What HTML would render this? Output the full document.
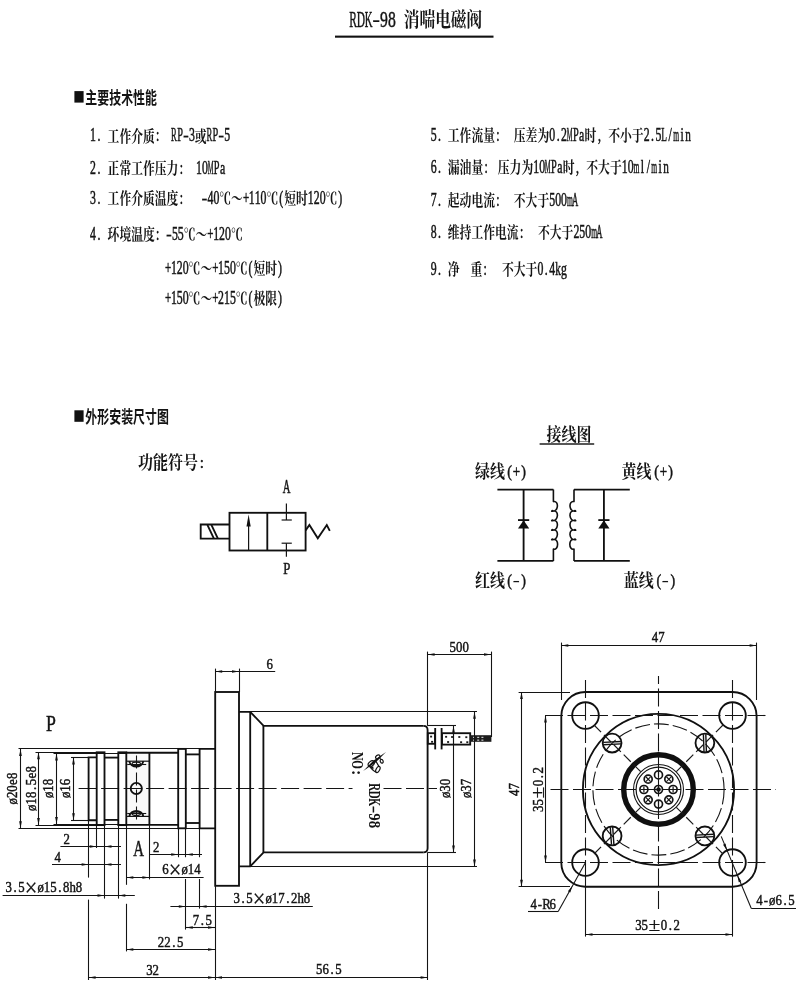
<!DOCTYPE html>
<html lang="zh-CN"><head><meta charset="utf-8"><title>RDK-98 消喘电磁阀</title>
<style>
html,body{margin:0;padding:0;background:#fff}
body{width:800px;height:988px;overflow:hidden;font-family:"Liberation Serif",serif}
svg{display:block;position:absolute;left:0;top:0;filter:grayscale(1)}
text{font-family:"Liberation Serif",serif;font-weight:bold;text-anchor:middle;fill:#141414}
.cs{font-family:"Liberation Serif","Noto Serif CJK SC",serif;font-weight:bold;fill:#141414;stroke:none}
.ch{font-family:"Liberation Sans","Noto Sans CJK SC",sans-serif;font-weight:bold;fill:#141414;stroke:none}
.k{fill:none;stroke:#101010;stroke-width:1.85;stroke-linejoin:miter}
.m{fill:none;stroke:#141414;stroke-width:1.2}
.n{fill:none;stroke:#141414;stroke-width:1.08}
.c{fill:none;stroke:#141414;stroke-width:1.08;stroke-dasharray:18 4.5}
.c2{fill:none;stroke:#1c1c1c;stroke-width:1.2;stroke-dasharray:10 4}
.c3{fill:none;stroke:#141414;stroke-width:1.1;stroke-dasharray:15 4}
.a{fill:#101010;stroke:none}
.d{font-weight:normal;stroke:#141414;stroke-width:.45}
.r{font-weight:normal;stroke:#141414;stroke-width:.5}
.b{font-weight:bold}
.x{font-weight:normal;stroke:#141414;stroke-width:.15}
</style></head>
<body>
<svg width="800" height="988" viewBox="0 0 800 988">
<g aria-label="RDK-98 消喘电磁阀" stroke-width="3"><text class="r" transform="translate(0,27.4) scale(0.478,1)" x="738.63 755.07" font-size="24">RD</text><text class="r" transform="translate(0,27.4) scale(0.445,1)" x="828.23" font-size="24">K</text><text class="x" transform="translate(0,27.4) scale(0.981,1)" x="383.46" font-size="24">-</text><text class="r" transform="translate(0,27.4) scale(0.654,1)" x="587.2 599.2" font-size="24">98</text><text class="cs" transform="translate(403.75,27.18) scale(0.7772,1)" x="10.1 30.3 50.5 70.7 90.9" font-size="20.2">消喘电磁阀</text></g>
<rect x="335" y="35.6" width="158.5" height="2.1" fill="#111"/>
<rect x="74.4" y="91.1" width="9.2" height="11.5" fill="#111"/>
<g aria-label="主要技术性能"><text class="ch" transform="translate(85.3,103.84) scale(0.6948,1)" x="8.6 25.8 43 60.2 77.4 94.6" font-size="17.2">主要技术性能</text></g>
<g aria-label="1."><text class="r" transform="translate(0,141.43) scale(0.661,1)" x="140.64 149.57" font-size="17.85">1.</text></g>
<g aria-label="工作介质:" stroke-width="5"><text class="cs" transform="translate(107.6,141.5) scale(0.7468,1)" x="7.9 23.7 39.5 55.3" font-size="15.8">工作介质</text><text class="r" transform="translate(0,141.43) scale(0.661,1)" x="238.68" font-size="17.85">:</text></g>
<g aria-label="RP-3或RP-5" stroke-width="5"><text class="r" transform="translate(0,141.43) scale(0.482,1)" x="360.96" font-size="17.85">R</text><text class="r" transform="translate(0,141.43) scale(0.575,1)" x="313.13" font-size="17.85">P</text><text class="x" transform="translate(0,141.43) scale(0.991,1)" x="187.57" font-size="17.85">-</text><text class="r" transform="translate(0,141.43) scale(0.661,1)" x="290.28" font-size="17.85">3</text><text class="cs" transform="translate(194.8,141.5) scale(0.7468,1)" x="7.9" font-size="15.8">或</text><text class="r" transform="translate(0,141.43) scale(0.482,1)" x="434.33" font-size="17.85">R</text><text class="r" transform="translate(0,141.43) scale(0.575,1)" x="374.7" font-size="17.85">P</text><text class="x" transform="translate(0,141.43) scale(0.991,1)" x="223.28" font-size="17.85">-</text><text class="r" transform="translate(0,141.43) scale(0.661,1)" x="343.84" font-size="17.85">5</text></g>
<g aria-label="2."><text class="r" transform="translate(0,174.12) scale(0.661,1)" x="140.64 149.57" font-size="17.85">2.</text></g>
<g aria-label="正常工作压力:" stroke-width="5"><text class="cs" transform="translate(107.6,174.2) scale(0.7468,1)" x="7.9 23.7 39.5 55.3 71.1 86.9" font-size="15.8">正常工作压力</text><text class="r" transform="translate(0,174.12) scale(0.661,1)" x="274.39" font-size="17.85">:</text></g>
<g aria-label="10MPa"><text class="r" transform="translate(0,174.12) scale(0.661,1)" x="301.02 309.95" font-size="17.85">10</text><text class="r" transform="translate(0,174.12) scale(0.370,1)" x="569.42" font-size="17.85">M</text><text class="r" transform="translate(0,174.12) scale(0.575,1)" x="376.78" font-size="17.85">P</text><text class="r" transform="translate(0,174.12) scale(0.661,1)" x="336.73" font-size="17.85">a</text></g>
<g aria-label="3."><text class="r" transform="translate(0,203.93) scale(0.661,1)" x="140.64 149.57" font-size="17.85">3.</text></g>
<g aria-label="工作介质温度:" stroke-width="5"><text class="cs" transform="translate(107.6,204) scale(0.7468,1)" x="7.9 23.7 39.5 55.3 71.1 86.9" font-size="15.8">工作介质温度</text><text class="r" transform="translate(0,203.93) scale(0.661,1)" x="274.39" font-size="17.85">:</text></g>
<g aria-label="-40℃～+110℃(短时120℃)" stroke-width="5"><text class="x" transform="translate(0,203.93) scale(0.991,1)" x="206.33" font-size="17.85">-</text><text class="r" transform="translate(0,203.93) scale(0.661,1)" x="318.42 327.35" font-size="17.85">40</text><text class="cs" transform="translate(219.3,204) scale(0.7468,1)" x="7.9 23.7" font-size="15.8">℃～</text><text class="r" transform="translate(0,203.93) scale(0.615,1)" x="399.98" font-size="17.85">+</text><text class="r" transform="translate(0,203.93) scale(0.661,1)" x="380.91 389.84 398.76" font-size="17.85">110</text><text class="cs" transform="translate(266.5,204) scale(0.7468,1)" x="7.9" font-size="15.8">℃</text><text class="r" transform="translate(0,203.93) scale(0.661,1)" x="425.55" font-size="17.85">(</text><text class="cs" transform="translate(284.2,204) scale(0.7468,1)" x="7.9 23.7" font-size="15.8">短时</text><text class="r" transform="translate(0,203.93) scale(0.661,1)" x="470.18 479.11 488.03" font-size="17.85">120</text><text class="cs" transform="translate(325.5,204) scale(0.7468,1)" x="7.9" font-size="15.8">℃</text><text class="r" transform="translate(0,203.93) scale(0.661,1)" x="514.82" font-size="17.85">)</text></g>
<g aria-label="4."><text class="r" transform="translate(0,240.12) scale(0.661,1)" x="140.64 149.57" font-size="17.85">4.</text></g>
<g aria-label="环境温度:" stroke-width="5"><text class="cs" transform="translate(107.6,240.2) scale(0.7468,1)" x="7.9 23.7 39.5 55.3" font-size="15.8">环境温度</text><text class="r" transform="translate(0,240.12) scale(0.661,1)" x="238.68" font-size="17.85">:</text></g>
<g aria-label="-55℃～+120℃" stroke-width="5"><text class="x" transform="translate(0,240.12) scale(0.991,1)" x="170.42" font-size="17.85">-</text><text class="r" transform="translate(0,240.12) scale(0.661,1)" x="264.56 273.48" font-size="17.85">55</text><text class="cs" transform="translate(183.7,240.2) scale(0.7468,1)" x="7.9 23.7" font-size="15.8">℃～</text><text class="r" transform="translate(0,240.12) scale(0.615,1)" x="342.06" font-size="17.85">+</text><text class="r" transform="translate(0,240.12) scale(0.661,1)" x="327.05 335.97 344.9" font-size="17.85">120</text><text class="cs" transform="translate(230.9,240.2) scale(0.7468,1)" x="7.9" font-size="15.8">℃</text></g>
<g aria-label="+120℃～+150℃(短时)" stroke-width="5"><text class="r" transform="translate(0,273.73) scale(0.615,1)" x="273.24" font-size="17.85">+</text><text class="r" transform="translate(0,273.73) scale(0.661,1)" x="263.04 271.97 280.9" font-size="17.85">120</text><text class="cs" transform="translate(188.6,273.8) scale(0.7468,1)" x="7.9 23.7" font-size="15.8">℃～</text><text class="r" transform="translate(0,273.73) scale(0.615,1)" x="350.04" font-size="17.85">+</text><text class="r" transform="translate(0,273.73) scale(0.661,1)" x="334.46 343.39 352.31" font-size="17.85">150</text><text class="cs" transform="translate(235.8,273.8) scale(0.7468,1)" x="7.9" font-size="15.8">℃</text><text class="r" transform="translate(0,273.73) scale(0.661,1)" x="379.09" font-size="17.85">(</text><text class="cs" transform="translate(253.5,273.8) scale(0.7468,1)" x="7.9 23.7" font-size="15.8">短时</text><text class="r" transform="translate(0,273.73) scale(0.661,1)" x="423.73" font-size="17.85">)</text></g>
<g aria-label="+150℃～+215℃(极限)" stroke-width="5"><text class="r" transform="translate(0,303.93) scale(0.615,1)" x="273.24" font-size="17.85">+</text><text class="r" transform="translate(0,303.93) scale(0.661,1)" x="263.04 271.97 280.9" font-size="17.85">150</text><text class="cs" transform="translate(188.6,304) scale(0.7468,1)" x="7.9 23.7" font-size="15.8">℃～</text><text class="r" transform="translate(0,303.93) scale(0.615,1)" x="350.04" font-size="17.85">+</text><text class="r" transform="translate(0,303.93) scale(0.661,1)" x="334.46 343.39 352.31" font-size="17.85">215</text><text class="cs" transform="translate(235.8,304) scale(0.7468,1)" x="7.9" font-size="15.8">℃</text><text class="r" transform="translate(0,303.93) scale(0.661,1)" x="379.09" font-size="17.85">(</text><text class="cs" transform="translate(253.5,304) scale(0.7468,1)" x="7.9 23.7" font-size="15.8">极限</text><text class="r" transform="translate(0,303.93) scale(0.661,1)" x="423.73" font-size="17.85">)</text></g>
<g aria-label="5."><text class="r" transform="translate(0,140.73) scale(0.661,1)" x="655.98 664.91" font-size="17.85">5.</text></g>
<g aria-label="工作流量:" stroke-width="5"><text class="cs" transform="translate(447.8,140.8) scale(0.7468,1)" x="7.9 23.7 39.5 55.3" font-size="15.8">工作流量</text><text class="r" transform="translate(0,140.73) scale(0.661,1)" x="753.42" font-size="17.85">:</text></g>
<g aria-label="压差为0.2MPa时, 不小于2.5L/min" stroke-width="5"><text class="cs" transform="translate(513.8,140.8) scale(0.7468,1)" x="7.9 23.7 39.5" font-size="15.8">压差为</text><text class="r" transform="translate(0,140.73) scale(0.661,1)" x="835.43 844.36 853.29" font-size="17.85">0.2</text><text class="r" transform="translate(0,140.73) scale(0.370,1)" x="1539.66" font-size="17.85">M</text><text class="r" transform="translate(0,140.73) scale(0.575,1)" x="1001.31" font-size="17.85">P</text><text class="r" transform="translate(0,140.73) scale(0.661,1)" x="880.07" font-size="17.85">a</text><text class="cs" transform="translate(584.6,140.8) scale(0.7468,1)" x="7.9" font-size="15.8">时</text><text class="r" transform="translate(0,140.73) scale(0.661,1)" x="906.85" font-size="17.85">,</text><text class="cs" transform="translate(608.2,140.8) scale(0.7468,1)" x="7.9 23.7 39.5" font-size="15.8">不小于</text><text class="r" transform="translate(0,140.73) scale(0.661,1)" x="978.26 987.19 996.12" font-size="17.85">2.5</text><text class="r" transform="translate(0,140.73) scale(0.522,1)" x="1272.21" font-size="17.85">L</text><text class="r" transform="translate(0,140.73) scale(0.661,1)" x="1013.97" font-size="17.85">/</text><text class="r" transform="translate(0,140.73) scale(0.423,1)" x="1598.28" font-size="17.85">m</text><text class="r" transform="translate(0,140.73) scale(0.661,1)" x="1031.83" font-size="17.85">i</text><text class="r" transform="translate(0,140.73) scale(0.628,1)" x="1095.53" font-size="17.85">n</text></g>
<g aria-label="6."><text class="r" transform="translate(0,172.53) scale(0.661,1)" x="655.98 664.91" font-size="17.85">6.</text></g>
<g aria-label="漏油量:" stroke-width="5"><text class="cs" transform="translate(447.8,172.6) scale(0.7468,1)" x="7.9 23.7 39.5" font-size="15.8">漏油量</text><text class="r" transform="translate(0,172.53) scale(0.661,1)" x="735.57" font-size="17.85">:</text></g>
<g aria-label="压力为10MPa时, 不大于10ml/min" stroke-width="5"><text class="cs" transform="translate(497.8,172.6) scale(0.7468,1)" x="7.9 23.7 39.5" font-size="15.8">压力为</text><text class="r" transform="translate(0,172.53) scale(0.661,1)" x="811.22 820.15" font-size="17.85">10</text><text class="r" transform="translate(0,172.53) scale(0.370,1)" x="1480.49" font-size="17.85">M</text><text class="r" transform="translate(0,172.53) scale(0.575,1)" x="963.22" font-size="17.85">P</text><text class="r" transform="translate(0,172.53) scale(0.661,1)" x="846.93" font-size="17.85">a</text><text class="cs" transform="translate(562.7,172.6) scale(0.7468,1)" x="7.9" font-size="15.8">时</text><text class="r" transform="translate(0,172.53) scale(0.661,1)" x="873.71" font-size="17.85">,</text><text class="cs" transform="translate(586.3,172.6) scale(0.7468,1)" x="7.9 23.7 39.5" font-size="15.8">不大于</text><text class="r" transform="translate(0,172.53) scale(0.661,1)" x="945.13 954.05" font-size="17.85">10</text><text class="r" transform="translate(0,172.53) scale(0.423,1)" x="1504.66" font-size="17.85">m</text><text class="r" transform="translate(0,172.53) scale(0.661,1)" x="971.91 980.84" font-size="17.85">l/</text><text class="r" transform="translate(0,172.53) scale(0.423,1)" x="1546.5" font-size="17.85">m</text><text class="r" transform="translate(0,172.53) scale(0.661,1)" x="998.69" font-size="17.85">i</text><text class="r" transform="translate(0,172.53) scale(0.628,1)" x="1060.65" font-size="17.85">n</text></g>
<g aria-label="7."><text class="r" transform="translate(0,205.93) scale(0.661,1)" x="655.98 664.91" font-size="17.85">7.</text></g>
<g aria-label="起动电流:" stroke-width="5"><text class="cs" transform="translate(447.8,206) scale(0.7468,1)" x="7.9 23.7 39.5 55.3" font-size="15.8">起动电流</text><text class="r" transform="translate(0,205.93) scale(0.661,1)" x="753.42" font-size="17.85">:</text></g>
<g aria-label="不大于500mA" stroke-width="5"><text class="cs" transform="translate(513.8,206) scale(0.7468,1)" x="7.9 23.7 39.5" font-size="15.8">不大于</text><text class="r" transform="translate(0,205.93) scale(0.661,1)" x="835.43 844.36 853.29" font-size="17.85">500</text><text class="r" transform="translate(0,205.93) scale(0.423,1)" x="1347.21" font-size="17.85">m</text><text class="r" transform="translate(0,205.93) scale(0.482,1)" x="1193.34" font-size="17.85">A</text></g>
<g aria-label="8."><text class="r" transform="translate(0,238.33) scale(0.661,1)" x="655.98 664.91" font-size="17.85">8.</text></g>
<g aria-label="维持工作电流:" stroke-width="5"><text class="cs" transform="translate(447.8,238.4) scale(0.7468,1)" x="7.9 23.7 39.5 55.3 71.1 86.9" font-size="15.8">维持工作电流</text><text class="r" transform="translate(0,238.33) scale(0.661,1)" x="789.13" font-size="17.85">:</text></g>
<g aria-label="不大于250mA" stroke-width="5"><text class="cs" transform="translate(538,238.4) scale(0.7468,1)" x="7.9 23.7 39.5" font-size="15.8">不大于</text><text class="r" transform="translate(0,238.33) scale(0.661,1)" x="872.05 880.97 889.9" font-size="17.85">250</text><text class="r" transform="translate(0,238.33) scale(0.423,1)" x="1404.42" font-size="17.85">m</text><text class="r" transform="translate(0,238.33) scale(0.482,1)" x="1243.5" font-size="17.85">A</text></g>
<g aria-label="9."><text class="r" transform="translate(0,274.93) scale(0.661,1)" x="655.98 664.91" font-size="17.85">9.</text></g>
<g aria-label="净" stroke-width="5"><text class="cs" transform="translate(447.8,275) scale(0.7468,1)" x="7.9" font-size="15.8">净</text></g>
<g aria-label="重:" stroke-width="5"><text class="cs" transform="translate(470.4,275) scale(0.7468,1)" x="7.9" font-size="15.8">重</text><text class="r" transform="translate(0,274.93) scale(0.661,1)" x="734.06" font-size="17.85">:</text></g>
<g aria-label="不大于0.4kg" stroke-width="5"><text class="cs" transform="translate(502,275) scale(0.7468,1)" x="7.9 23.7 39.5" font-size="15.8">不大于</text><text class="r" transform="translate(0,274.93) scale(0.661,1)" x="817.58 826.5 835.43" font-size="17.85">0.4</text><text class="r" transform="translate(0,274.93) scale(0.628,1)" x="888.8" font-size="17.85">k</text><text class="r" transform="translate(0,274.93) scale(0.661,1)" x="853.29" font-size="17.85">g</text></g>
<rect x="74.4" y="410.3" width="9.2" height="11.5" fill="#111"/>
<g aria-label="外形安装尺寸图"><text class="ch" transform="translate(85.3,423.04) scale(0.6948,1)" x="8.6 25.8 43 60.2 77.4 94.6 111.8" font-size="17.2">外形安装尺寸图</text></g>
<g aria-label="功能符号:" stroke-width="4"><text class="cs" transform="translate(138,469.19) scale(0.8152,1)" x="9.2 27.6 46 64.4" font-size="18.4">功能符号</text><text class="r" transform="translate(0,467.6) scale(0.915,1)" x="220.58" font-size="16.4">:</text></g>
<g aria-label="接线图" stroke-width="4"><text class="cs" transform="translate(546.6,440.59) scale(0.8152,1)" x="9.2 27.6 46" font-size="18.4">接线图</text></g>
<rect x="539.6" y="443.3" width="54.6" height="1.4" fill="#111"/>
<g aria-label="绿线" stroke-width="4"><text class="cs" transform="translate(475,478.19) scale(0.8152,1)" x="9.2 27.6" font-size="18.4">绿线</text></g>
<g aria-label="(+)"><text class="r" transform="translate(0,476.6) scale(0.854,1)" x="596.73" font-size="16.4">(</text><text class="r" transform="translate(0,476.6) scale(0.794,1)" x="650.46" font-size="16.4">+</text><text class="r" transform="translate(0,476.6) scale(0.854,1)" x="613.13" font-size="16.4">)</text></g>
<g aria-label="黄线" stroke-width="4"><text class="cs" transform="translate(621.6,478.19) scale(0.8152,1)" x="9.2 27.6" font-size="18.4">黄线</text></g>
<g aria-label="(+)"><text class="r" transform="translate(0,476.6) scale(0.854,1)" x="768.93" font-size="16.4">(</text><text class="r" transform="translate(0,476.6) scale(0.794,1)" x="835.62" font-size="16.4">+</text><text class="r" transform="translate(0,476.6) scale(0.854,1)" x="785.33" font-size="16.4">)</text></g>
<g aria-label="红线" stroke-width="4"><text class="cs" transform="translate(475,587.39) scale(0.8152,1)" x="9.2 27.6" font-size="18.4">红线</text></g>
<g aria-label="(-)"><text class="r" transform="translate(0,585.8) scale(0.854,1)" x="596.73" font-size="16.4">(</text><text class="x" transform="translate(0,585.8) scale(1.280,1)" x="403.28" font-size="16.4">-</text><text class="r" transform="translate(0,585.8) scale(0.854,1)" x="613.13" font-size="16.4">)</text></g>
<g aria-label="蓝线" stroke-width="4"><text class="cs" transform="translate(623.8,587.39) scale(0.8152,1)" x="9.2 27.6" font-size="18.4">蓝线</text></g>
<g aria-label="(-)"><text class="r" transform="translate(0,585.8) scale(0.854,1)" x="771.39" font-size="16.4">(</text><text class="x" transform="translate(0,585.8) scale(1.280,1)" x="519.72" font-size="16.4">-</text><text class="r" transform="translate(0,585.8) scale(0.854,1)" x="787.79" font-size="16.4">)</text></g>
<rect class="k" x="229.5" y="512.8" width="76.1" height="37.7"/>
<path class="k" d="M267.3 512.8L267.3 550.5"/>
<path class="k" d="M229.5 524.5L200.7 524.5L200.7 538.6L229.5 538.6"/>
<path class="k" d="M207.4 524.8L213.8 538.3"/>
<path class="k" d="M211.4 524.8L217.8 538.3"/>
<path class="m" d="M248.6 550.5L248.6 524"/>
<path class="a" d="M248.6 514.6L250.7 526.4L246.5 526.4z"/>
<path class="m" d="M286.4 503.6L286.4 520"/>
<path class="m" d="M281.6 520L291.8 520"/>
<path class="m" d="M286.4 543.2L286.4 556.8"/>
<path class="m" d="M281.6 543.2L291.8 543.2"/>
<path class="k" d="M305.6 530.4L309.4 525L317.8 538.3L326.8 525L329.8 530.8"/>
<g aria-label="A"><text class="r" transform="translate(0,492.8) scale(0.592,1)" x="483.95" font-size="18">A</text></g>
<g aria-label="P"><text class="r" transform="translate(0,573.6) scale(0.738,1)" x="388.7" font-size="17.2">P</text></g>
<path class="k" d="M497.4 489.6L553.4 489.6"/>
<path class="k" d="M497.4 560.9L553.4 560.9"/>
<path class="k" d="M523.6 489.6L523.6 560.9"/>
<path class="a" d="M523.6 520.3L529.2 528.6L518 528.6z"/>
<path class="k" d="M518 520.1L529.2 520.1"/>
<path class="k" style="stroke-linejoin:round;stroke-width:1.6" d="M553.4 489.6V501.6c5.6 -1.6 5.6 11 -1.7 9.5q0.6 -0.9 1.7 0c5.6 -1.6 5.6 11 -1.7 9.5q0.6 -0.9 1.7 0c5.6 -1.6 5.6 11 -1.7 9.5q0.6 -0.9 1.7 0c5.6 -1.6 5.6 11 -1.7 9.5q0.6 -0.9 1.7 0c5.6 -1.6 5.6 11 0 9.5V560.9"/>
<path class="k" d="M629.8 489.6L574 489.6"/>
<path class="k" d="M629.8 560.9L574 560.9"/>
<path class="k" d="M603.9 489.6L603.9 560.9"/>
<path class="a" d="M603.9 520.3L609.5 528.6L598.3 528.6z"/>
<path class="k" d="M598.3 520.1L609.5 520.1"/>
<path class="k" style="stroke-linejoin:round;stroke-width:1.6" d="M574 489.6V501.6c-5.6 -1.6 -5.6 11 1.7 9.5q-0.6 -0.9 -1.7 0c-5.6 -1.6 -5.6 11 1.7 9.5q-0.6 -0.9 -1.7 0c-5.6 -1.6 -5.6 11 1.7 9.5q-0.6 -0.9 -1.7 0c-5.6 -1.6 -5.6 11 1.7 9.5q-0.6 -0.9 -1.7 0c-5.6 -1.6 -5.6 11 0 9.5V560.9"/>
<rect x="126.3" y="752.6" width="23.1" height="72.2" fill="#f9f9f9"/>
<path class="c" d="M78.6 788.5H352.5M383.5 788.5H437"/>
<path class="n" d="M18.5 748.5L215.2 748.5"/>
<path class="n" d="M18.5 828.5L215.2 828.5"/>
<path class="n" d="M35.5 752.5L97 752.5"/>
<path class="n" d="M35.5 825.5L97 825.5"/>
<path class="n" d="M53.5 753.5L127 753.5"/>
<path class="n" d="M53.5 824.5L127 824.5"/>
<path class="n" d="M71 757.5L88.6 757.5"/>
<path class="n" d="M71 820.5L88.6 820.5"/>
<path class="k" d="M96.7 757.4L88.6 757.4L88.6 820.2L96.7 820.2"/>
<rect class="k" x="96.7" y="752.3" width="7.8" height="72.8"/>
<path class="k" d="M104.5 757.6L118.3 757.6"/>
<path class="k" d="M104.5 819.9L118.3 819.9"/>
<rect class="k" x="118.3" y="752.3" width="8" height="72.8"/>
<path class="k" d="M126.3 752.7L178.2 752.7"/>
<path class="k" d="M126.3 824.8L178.2 824.8"/>
<path class="m" d="M126.3 761.2L149.4 761.2"/>
<path class="m" d="M126.3 816.4L149.4 816.4"/>
<path class="k" d="M149.4 752.7L149.4 824.8"/>
<rect class="k" x="178.2" y="748.9" width="7.6" height="79.4"/>
<path class="k" d="M185.8 754.4L199.6 754.4"/>
<path class="k" d="M185.8 823L199.6 823"/>
<path class="k" d="M215.2 748.9L199.6 748.9L199.6 828.3L215.2 828.3"/>
<path class="c" style="stroke-dasharray:13 4" d="M136.5 755.5V822.5"/>
<circle class="k" cx="136.3" cy="788.5" r="5.6"/>
<path class="k" d="M129.4 761.2C130.4 768.4 142.2 768.4 143.2 761.2"/>
<ellipse class="m" cx="136.3" cy="763.9" rx="4.2" ry="1.7"/>
<path class="n" d="M127.2 764.5L146.2 764.5"/>
<path class="k" d="M129.4 816.4C130.4 809.2 142.2 809.2 143.2 816.4"/>
<ellipse class="m" cx="136.3" cy="813.7" rx="4.2" ry="1.7"/>
<path class="n" d="M127.2 813.5L146.2 813.5"/>
<rect class="k" x="215.2" y="692" width="23.8" height="193.8"/>
<path class="k" d="M239 711.8L250.2 711.8L263.6 725.8L423.4 725.8"/>
<path class="k" d="M239 866.4L250.2 866.4L263.6 852.4L423.4 852.4"/>
<path class="k" d="M423.4 725.8Q427.6 725.8 427.6 730V848.2Q427.6 852.4 423.4 852.4"/>
<path class="k" d="M250.2 711.8L250.2 866.4"/>
<path class="k" d="M263.4 725.8L263.4 852.4"/>
<path class="n" d="M250.2 711.5L477 711.5"/>
<path class="n" d="M250.2 866.5L477 866.5"/>
<path class="n" d="M427.6 725.5L456 725.5"/>
<path class="n" d="M427.6 852.5L456 852.5"/>
<rect class="k" x="427.8" y="733.2" width="7.2" height="10.6"/>
<path class="k" d="M435.2 728L435.2 749.4"/>
<path class="k" d="M441.6 728L441.6 749.4"/>
<rect class="k" x="442" y="733.2" width="28.2" height="11.4"/>
<path class="n" d="M453.5 733.2L453.5 744.6"/>
<rect x="430.1" y="735.7" width="2" height="1.8" fill="#1a1a1a"/>
<rect x="431.1" y="740.9" width="2" height="1.8" fill="#1a1a1a"/>
<rect x="445.1" y="735.9" width="2" height="1.8" fill="#1a1a1a"/>
<rect x="447.1" y="741.1" width="2" height="1.8" fill="#1a1a1a"/>
<rect x="451.1" y="736.1" width="2" height="1.8" fill="#1a1a1a"/>
<rect x="458.3" y="736.1" width="2" height="1.8" fill="#1a1a1a"/>
<rect x="460.1" y="741.3" width="2" height="1.8" fill="#1a1a1a"/>
<rect x="465.3" y="736.3" width="2" height="1.8" fill="#1a1a1a"/>
<rect x="466.3" y="741.3" width="2" height="1.8" fill="#1a1a1a"/>
<rect x="470.2" y="735.2" width="21.2" height="6.6" fill="#1c1c1c"/>
<rect x="473" y="736.8" width="2" height="1.1" fill="#ddd"/><rect x="473" y="739.6" width="2" height="1.1" fill="#ddd"/>
<rect x="477.2" y="736.8" width="2" height="1.1" fill="#ddd"/><rect x="477.2" y="739.6" width="2" height="1.1" fill="#ddd"/>
<rect x="481.4" y="736.8" width="2" height="1.1" fill="#ddd"/><rect x="481.4" y="739.6" width="2" height="1.1" fill="#ddd"/>
<g aria-label="NO:" transform="translate(351.5,752.3) rotate(90)"><text class="b" transform="translate(0,0) scale(0.688,1)" x="5.96" font-size="17.4">N</text><text class="b" transform="translate(0,0) scale(0.641,1)" x="19.19" font-size="17.4">O</text><text class="b" transform="translate(0,0) scale(0.943,1)" x="21.75" font-size="17.4">:</text></g>
<g aria-label="RDK-98" transform="translate(369.2,783.5) rotate(90)"><text class="b" transform="translate(0,0) scale(0.625,1)" x="5.96 17.88" font-size="17.4">RD</text><text class="b" transform="translate(0,0) scale(0.582,1)" x="31.99" font-size="17.4">K</text><text class="x" transform="translate(0,0) scale(1.284,1)" x="20.3" font-size="17.4">-</text><text class="b" transform="translate(0,0) scale(0.856,1)" x="39.15 47.85" font-size="17.4">98</text></g>
<path class="a" d="M363.2 771L375.6 762.6L386 751.9L373.6 760.4z"/>
<g class="m" style="stroke-width:1.15"><ellipse cx="377.8" cy="756.9" rx="2.4" ry="1.7" transform="rotate(-38 377.8 756.9)"/><ellipse cx="381.7" cy="761.3" rx="1.4" ry="1.9" transform="rotate(-20 381.7 761.3)"/><ellipse cx="371.3" cy="763.7" rx="3.5" ry="2.4" transform="rotate(-40 371.3 763.7)"/><ellipse cx="377.9" cy="769.5" rx="1.8" ry="3.3" transform="rotate(28 377.9 769.5)"/><path d="M376 761.4L378.9 766.4M379.9 757.6L380.6 759.6M369.6 766.4C371.8 769.4 374.2 771.6 376.4 772.2"/></g>
<path class="a" d="M370.4 767.4L373.2 766.2L373.6 769.6z"/>
<path class="n" d="M20.5 748.9L20.5 828.3"/>
<path class="a" d="M20.5 748.9L21.85 755.9L19.15 755.9z"/>
<path class="a" d="M20.5 828.3L19.15 821.3L21.85 821.3z"/>
<g transform="translate(12.4,788.5) rotate(-90)"><text class="d" transform="translate(0,4.7) scale(0.889,1)" x="-14.4 -7.2 0 7.2 14.4" font-size="14.4">ø20e8</text></g>
<path class="n" d="M38.5 752.3L38.5 825"/>
<path class="a" d="M38.5 752.3L39.85 759.3L37.15 759.3z"/>
<path class="a" d="M38.5 825L37.15 818L39.85 818z"/>
<g transform="translate(30.8,788.5) rotate(-90)"><text class="d" transform="translate(0,4.7) scale(0.889,1)" x="-21.6 -14.4 -7.2 0 7.2 14.4 21.6" font-size="14.4">ø18.5e8</text></g>
<path class="n" d="M56.5 753.4L56.5 824"/>
<path class="a" d="M56.5 753.4L57.85 760.4L55.15 760.4z"/>
<path class="a" d="M56.5 824L55.15 817L57.85 817z"/>
<g transform="translate(48.6,788.5) rotate(-90)"><text class="d" transform="translate(0,4.7) scale(0.889,1)" x="-7.2 0 7.2" font-size="14.4">ø18</text></g>
<path class="n" d="M73.5 757.4L73.5 820.2"/>
<path class="a" d="M73.5 757.4L74.85 764.4L72.15 764.4z"/>
<path class="a" d="M73.5 820.2L72.15 813.2L74.85 813.2z"/>
<g transform="translate(65.6,788.5) rotate(-90)"><text class="d" transform="translate(0,4.7) scale(0.889,1)" x="-7.2 0 7.2" font-size="14.4">ø16</text></g>
<g aria-label="P"><text class="r" transform="translate(0,731) scale(0.792,1)" x="64.24" font-size="22.4">P</text></g>
<g aria-label="A"><text class="r" transform="translate(0,856.4) scale(0.665,1)" x="208.33" font-size="22.4">A</text></g>
<path class="n" d="M88.5 820.2L88.5 877.6"/>
<path class="n" d="M88.5 899.6L88.5 980"/>
<path class="n" d="M96.5 825.1L96.5 848"/>
<path class="n" d="M104.5 825.1L104.5 898.6"/>
<path class="n" d="M118.5 825.1L118.5 898.6"/>
<path class="n" d="M126.5 825.1L126.5 884.8"/>
<path class="n" d="M126.5 903.8L126.5 951.4"/>
<path class="n" d="M149.5 824.8L149.5 879.4"/>
<path class="n" d="M178.5 828.3L178.5 857.2"/>
<path class="n" d="M185.5 828.3L185.5 857.2"/>
<path class="n" d="M185.5 879L185.5 929.6"/>
<path class="n" d="M199.5 828.3L199.5 857.2"/>
<path class="n" d="M199.5 879L199.5 908.6"/>
<path class="n" d="M215.5 885.8L215.5 980"/>
<path class="n" d="M427.5 852.4L427.5 980"/>
<path class="n" d="M60.4 846.5L121 846.5"/>
<path class="a" d="M96.7 846.5L89.7 847.85L89.7 845.15z"/>
<path class="a" d="M104.5 846.5L111.5 845.15L111.5 847.85z"/>
<g transform="translate(66.8,839.2)"><text class="d" transform="translate(0,4.7) scale(0.889,1)" x="0" font-size="14.4">2</text></g>
<path class="n" d="M52 864.5L121 864.5"/>
<path class="a" d="M88.6 864.5L81.6 865.85L81.6 863.15z"/>
<path class="a" d="M104.5 864.5L111.5 863.15L111.5 865.85z"/>
<g transform="translate(57.8,857)"><text class="d" transform="translate(0,4.7) scale(0.889,1)" x="0" font-size="14.4">4</text></g>
<path class="n" d="M2.6 895.5L134.8 895.5"/>
<path class="a" d="M104.5 895.5L97.5 896.85L97.5 894.15z"/>
<path class="a" d="M118.3 895.5L125.3 894.15L125.3 896.85z"/>
<g transform="translate(43.8,887.6)"><text class="d" transform="translate(0,4.7) scale(0.889,1)" x="-39.6 -32.4 -25.2" font-size="14.4">3.5</text><text class="x" transform="translate(-12.8,8.1) scale(1.55,1.75)" x="0" font-size="14.4">×</text><text class="d" transform="translate(0,4.7) scale(0.889,1)" x="-3.6 3.6 10.8 18 25.2 32.4 39.6" font-size="14.4">ø15.8h8</text></g>
<path class="n" d="M126.3 877.5L203.6 877.5"/>
<path class="a" d="M126.3 877.5L133.3 876.15L133.3 878.85z"/>
<path class="a" d="M149.4 877.5L142.4 878.85L142.4 876.15z"/>
<g transform="translate(181.4,869.4)"><text class="d" transform="translate(0,4.7) scale(0.889,1)" x="-18" font-size="14.4">6</text><text class="x" transform="translate(-6.4,8.1) scale(1.55,1.75)" x="0" font-size="14.4">×</text><text class="d" transform="translate(0,4.7) scale(0.889,1)" x="3.6 10.8 18" font-size="14.4">ø14</text></g>
<path class="n" d="M149.4 854.5L202 854.5"/>
<path class="a" d="M178.2 854.5L171.2 855.85L171.2 853.15z"/>
<path class="a" d="M185.8 854.5L192.8 853.15L192.8 855.85z"/>
<g transform="translate(156.2,847.4)"><text class="d" transform="translate(0,4.7) scale(0.889,1)" x="0" font-size="14.4">2</text></g>
<path class="n" d="M170.4 906.5L312.8 906.5"/>
<path class="a" d="M185.8 906.5L178.8 907.85L178.8 905.15z"/>
<path class="a" d="M199.6 906.5L206.6 905.15L206.6 907.85z"/>
<g transform="translate(271.8,898.6)"><text class="d" transform="translate(0,4.7) scale(0.889,1)" x="-39.6 -32.4 -25.2" font-size="14.4">3.5</text><text class="x" transform="translate(-12.8,8.1) scale(1.55,1.75)" x="0" font-size="14.4">×</text><text class="d" transform="translate(0,4.7) scale(0.889,1)" x="-3.6 3.6 10.8 18 25.2 32.4 39.6" font-size="14.4">ø17.2h8</text></g>
<path class="n" d="M185.8 927.5L215 927.5"/>
<path class="a" d="M185.8 927.5L192.8 926.15L192.8 928.85z"/>
<path class="a" d="M215 927.5L208 928.85L208 926.15z"/>
<g transform="translate(202.4,920.4)"><text class="d" transform="translate(0,4.7) scale(0.889,1)" x="-7.2 0 7.2" font-size="14.4">7.5</text></g>
<path class="n" d="M126.3 949.5L215 949.5"/>
<path class="a" d="M126.3 949.5L133.3 948.15L133.3 950.85z"/>
<path class="a" d="M215 949.5L208 950.85L208 948.15z"/>
<g transform="translate(170.6,941.8)"><text class="d" transform="translate(0,4.7) scale(0.889,1)" x="-10.8 -3.6 3.6 10.8" font-size="14.4">22.5</text></g>
<path class="n" d="M88.6 977.5L215 977.5"/>
<path class="a" d="M88.6 977.5L95.6 976.15L95.6 978.85z"/>
<path class="a" d="M215 977.5L208 978.85L208 976.15z"/>
<g transform="translate(152.6,969.8)"><text class="d" transform="translate(0,4.7) scale(0.889,1)" x="-3.6 3.6" font-size="14.4">32</text></g>
<path class="n" d="M215 977.5L427.6 977.5"/>
<path class="a" d="M215 977.5L222 976.15L222 978.85z"/>
<path class="a" d="M427.6 977.5L420.6 978.85L420.6 976.15z"/>
<g transform="translate(328.8,968.8)"><text class="d" transform="translate(0,4.7) scale(0.889,1)" x="-10.8 -3.6 3.6 10.8" font-size="14.4">56.5</text></g>
<path class="n" d="M215.5 668.6L215.5 692"/>
<path class="n" d="M239.5 668.6L239.5 692"/>
<path class="n" d="M215.2 671.5L275.2 671.5"/>
<path class="a" d="M215.2 671.5L222.2 670.15L222.2 672.85z"/>
<path class="a" d="M239 671.5L232 672.85L232 670.15z"/>
<g transform="translate(269.6,664)"><text class="d" transform="translate(0,4.7) scale(0.889,1)" x="0" font-size="14.4">6</text></g>
<path class="n" d="M427.5 651.6L427.5 725.8"/>
<path class="n" d="M491.5 651.6L491.5 737"/>
<path class="n" d="M427.6 654.5L491 654.5"/>
<path class="a" d="M427.6 654.5L434.6 653.15L434.6 655.85z"/>
<path class="a" d="M491 654.5L484 655.85L484 653.15z"/>
<g transform="translate(459.2,646.8)"><text class="d" transform="translate(0,4.7) scale(0.889,1)" x="-7.2 0 7.2" font-size="14.4">500</text></g>
<path class="n" d="M453.5 725.8L453.5 852.4"/>
<path class="a" d="M453.5 725.8L454.85 732.8L452.15 732.8z"/>
<path class="a" d="M453.5 852.4L452.15 845.4L454.85 845.4z"/>
<g transform="translate(445,788.5) rotate(-90)"><text class="d" transform="translate(0,4.7) scale(0.889,1)" x="-7.2 0 7.2" font-size="14.4">ø30</text></g>
<path class="n" d="M474.5 711.8L474.5 866.4"/>
<path class="a" d="M474.5 711.8L475.85 718.8L473.15 718.8z"/>
<path class="a" d="M474.5 866.4L473.15 859.4L475.85 859.4z"/>
<g transform="translate(466,788.5) rotate(-90)"><text class="d" transform="translate(0,4.7) scale(0.889,1)" x="-7.2 0 7.2" font-size="14.4">ø37</text></g>
<rect class="k" x="561.3" y="692" width="195.3" height="194.7" rx="24" ry="24"/>
<circle class="k" cx="585.5" cy="715.5" r="13.3"/>
<circle class="k" cx="585.5" cy="862.5" r="13.3"/>
<circle class="k" cx="732.5" cy="715.5" r="13.3"/>
<circle class="k" cx="732.5" cy="862.5" r="13.3"/>
<circle class="k" cx="658.5" cy="789.5" r="75.6"/>
<circle class="c3" cx="658.5" cy="789.5" r="65.6"/>
<circle class="k" cx="658.5" cy="789.5" r="34.8" style="stroke-width:5.4"/>
<circle class="n" cx="658.5" cy="789.5" r="25"/>
<circle class="m" cx="658.5" cy="789.5" r="22.4"/>
<circle class="m" cx="658.5" cy="789.5" r="4" style="stroke-width:1.7"/>
<circle class="a" cx="658.5" cy="789.5" r="2.3"/>
<circle class="m" cx="673.1" cy="789.5" r="4" style="stroke-width:1.7"/>
<path class="m" d="M673.1 786.5L673.1 792.5"/>
<circle class="m" cx="668.82" cy="799.82" r="4" style="stroke-width:1.7"/>
<path class="m" d="M666.42 797.42L671.22 802.22"/>
<path class="n" d="M666.42 802.22L671.22 797.42"/>
<circle class="m" cx="658.5" cy="804.1" r="4" style="stroke-width:1.7"/>
<path class="m" d="M658.5 801.1L658.5 807.1"/>
<circle class="m" cx="648.18" cy="799.82" r="4" style="stroke-width:1.7"/>
<path class="m" d="M645.78 797.42L650.58 802.22"/>
<path class="n" d="M645.78 802.22L650.58 797.42"/>
<circle class="m" cx="643.9" cy="789.5" r="4" style="stroke-width:1.7"/>
<path class="m" d="M643.9 786.5L643.9 792.5"/>
<circle class="m" cx="648.18" cy="779.18" r="4" style="stroke-width:1.7"/>
<path class="m" d="M645.78 776.78L650.58 781.58"/>
<path class="n" d="M645.78 781.58L650.58 776.78"/>
<circle class="m" cx="658.5" cy="774.9" r="4" style="stroke-width:1.7"/>
<path class="m" d="M658.5 771.9L658.5 777.9"/>
<circle class="m" cx="668.82" cy="779.18" r="4" style="stroke-width:1.7"/>
<path class="m" d="M666.42 776.78L671.22 781.58"/>
<path class="n" d="M666.42 781.58L671.22 776.78"/>
<path class="c2" d="M594 725L641.5 772.5"/>
<circle class="k" cx="612.1" cy="743.1" r="9.4"/>
<path class="k" style="stroke-width:1.4" transform="rotate(-3 612.1 743.1)" d="M603.3 741.9H620.9M603.3 744.3H620.9"/>
<path class="c2" d="M594 854L641.5 806.5"/>
<circle class="k" cx="612.1" cy="835.9" r="9.4"/>
<path class="k" style="stroke-width:1.4" transform="rotate(86 612.1 835.9)" d="M603.3 834.7H620.9M603.3 837.1H620.9"/>
<path class="c2" d="M723 725L675.5 772.5"/>
<circle class="k" cx="704.9" cy="743.1" r="9.4"/>
<path class="k" style="stroke-width:1.4" transform="rotate(88 704.9 743.1)" d="M696.1 741.9H713.7M696.1 744.3H713.7"/>
<path class="c2" d="M723 854L675.5 806.5"/>
<circle class="k" cx="704.9" cy="835.9" r="9.4"/>
<path class="k" style="stroke-width:1.4" transform="rotate(-3 704.9 835.9)" d="M696.1 834.7H713.7M696.1 837.1H713.7"/>
<path class="c" d="M550.5 789.5H776"/>
<path class="c" d="M658.5 909V676"/>
<path class="c" d="M545 715.5H768.5"/>
<path class="c" d="M545 862.5H768.5"/>
<path class="c" d="M585.5 680V880"/>
<path class="n" d="M585.5 876L585.5 936.6"/>
<path class="c" d="M732.5 680V880"/>
<path class="n" d="M732.5 876L732.5 936.6"/>
<path class="n" d="M561.5 642.6L561.5 700"/>
<path class="n" d="M756.5 642.6L756.5 700"/>
<path class="n" d="M561.3 645.5L756.6 645.5"/>
<path class="a" d="M561.3 645.5L568.3 644.15L568.3 646.85z"/>
<path class="a" d="M756.6 645.5L749.6 646.85L749.6 644.15z"/>
<g transform="translate(658.2,637.2)"><text class="d" transform="translate(0,4.7) scale(0.889,1)" x="-3.6 3.6" font-size="14.4">47</text></g>
<path class="n" d="M518.6 692.5L570 692.5"/>
<path class="n" d="M518.6 886.5L570 886.5"/>
<path class="n" d="M521.5 692L521.5 886.7"/>
<path class="a" d="M521.5 692L522.85 699L520.15 699z"/>
<path class="a" d="M521.5 886.7L520.15 879.7L522.85 879.7z"/>
<g transform="translate(514,789.5) rotate(-90)"><text class="d" transform="translate(0,4.7) scale(0.889,1)" x="-3.6 3.6" font-size="14.4">47</text></g>
<path class="n" d="M545.5 715.5L545.5 862.5"/>
<path class="a" d="M545.5 715.5L546.85 722.5L544.15 722.5z"/>
<path class="a" d="M545.5 862.5L544.15 855.5L546.85 855.5z"/>
<g transform="translate(538.4,789.5) rotate(-90)"><text class="d" transform="translate(0,4.7) scale(0.889,1)" x="-21.6 -14.4" font-size="14.4">35</text><text class="x" transform="translate(-3.2,5.3) scale(1.5,1.25)" x="0" font-size="14.4">±</text><text class="d" transform="translate(0,4.7) scale(0.889,1)" x="7.2 14.4 21.6" font-size="14.4">0.2</text></g>
<path class="n" d="M585.5 934.5L732.5 934.5"/>
<path class="a" d="M585.5 934.5L592.5 933.15L592.5 935.85z"/>
<path class="a" d="M732.5 934.5L725.5 935.85L725.5 933.15z"/>
<g transform="translate(657.6,925.4)"><text class="d" transform="translate(0,4.7) scale(0.889,1)" x="-21.6 -14.4" font-size="14.4">35</text><text class="x" transform="translate(-3.2,5.3) scale(1.5,1.25)" x="0" font-size="14.4">±</text><text class="d" transform="translate(0,4.7) scale(0.889,1)" x="7.2 14.4 21.6" font-size="14.4">0.2</text></g>
<path class="n" d="M528 911.5L558.2 911.5"/>
<path class="n" d="M558.2 911.4L585.5 862.5"/>
<path class="a" d="M572.5 885.8L570.27 892.57L567.91 891.25z"/>
<g transform="translate(543.2,904)"><text class="d" transform="translate(0,4.7) scale(0.889,1)" x="-10.8 -3.6 3.6 10.8" font-size="14.4">4-R6</text></g>
<path class="n" d="M751.2 908.5L796 908.5"/>
<path class="n" d="M751.2 908.2L721.2 836.4"/>
<path class="a" d="M727 850.6L723.06 844.66L725.55 843.62z"/>
<path class="a" d="M737.3 875.2L741.24 881.14L738.75 882.18z"/>
<g transform="translate(775.4,899.8)"><text class="d" transform="translate(0,4.7) scale(0.889,1)" x="-18 -10.8 -3.6 3.6 10.8 18" font-size="14.4">4-ø6.5</text></g>
</svg>
</body></html>
